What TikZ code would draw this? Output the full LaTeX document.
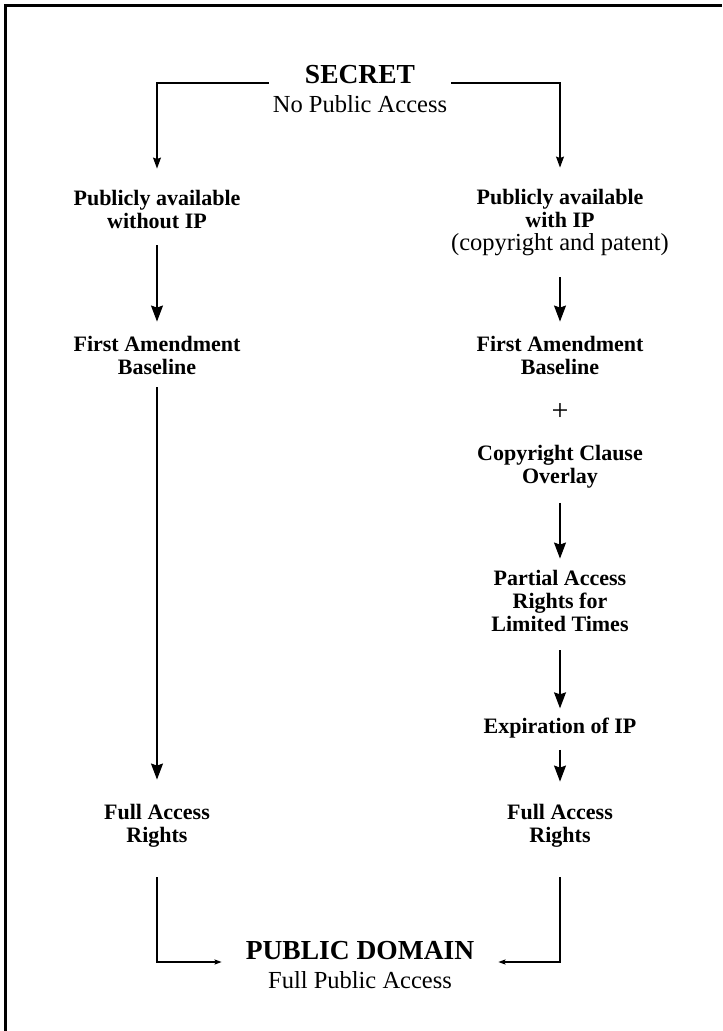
\documentclass[tikz,border=0pt]{standalone}
\usepackage{fontspec}
\setmainfont{Liberation Serif}
\usetikzlibrary{arrows.meta}
\begin{document}
\begin{tikzpicture}[x=1pt,y=-1pt,
  lbl/.style={font=\fontsize{22}{23}\selectfont\bfseries, align=center, anchor=base, inner sep=0pt},
  big/.style={font=\fontsize{27.5}{30}\selectfont\bfseries, anchor=base, inner sep=0pt},
  reg/.style={font=\fontsize{24.5}{26}\selectfont, anchor=base, inner sep=0pt},
  conn/.style={line width=1.2pt},
  arr/.style={conn, -{Stealth[length=16pt,width=12pt,inset=2pt]}},
  sarr/.style={conn, -{Stealth[length=11pt,width=8pt,inset=1.5pt]}},
  tarr/.style={conn, -{Stealth[length=7pt,width=5pt,inset=1pt]}}]
\useasboundingbox (0,0) rectangle (723,1031);
\draw[line width=3pt] (5,1031) -- (5,5) -- (722,5);

\node[big, inner xsep=36pt] (secret) at (360,83) {SECRET};
\node[reg] (nopub) at (360,112) {No Public Access};

\node[lbl] (pubL) at (157,228) {Publicly available\\without IP};
\node[lbl] (pubR) at (560,250) {Publicly available\\with IP\\{\fontsize{24.5}{23}\selectfont\mdseries (copyright and patent)}};

\node[lbl] (faL) at (157,374) {First Amendment\\Baseline};
\node[lbl] (faR) at (560,374) {First Amendment\\Baseline};
\node[font=\fontsize{30}{30}\selectfont, anchor=base, inner sep=0pt] (plus) at (560,420) {+};
\node[lbl] (ccR) at (560,483) {Copyright Clause\\Overlay};
\node[lbl] (partR) at (560,631) {Partial Access\\Rights for\\Limited Times};
\node[lbl] (expR) at (560,733) {Expiration of IP};
\node[lbl] (fullL) at (157,842) {Full Access\\Rights};
\node[lbl] (fullR) at (560,842) {Full Access\\Rights};

\node[big, inner xsep=24pt] (pd) at (360,959) {PUBLIC DOMAIN};
\node[reg] (fpa) at (360,988) {Full Public Access};

\draw[sarr] (secret.base west) -| ([yshift=21pt]pubL.north);
\draw[sarr] (secret.base east) -| ([yshift=21pt]pubR.north);
\draw[arr] ([yshift=-17pt]pubL.south) -- ([yshift=14pt]faL.north);
\draw[arr] ([yshift=-22pt]pubR.south) -- ([yshift=14pt]faR.north);
\draw[arr] ([yshift=-13pt]faL.south) -- ([yshift=24pt]fullL.north);
\draw[arr] ([yshift=-15pt]ccR.south) -- ([yshift=11pt]partR.north);
\draw[arr] ([yshift=-19pt]partR.south) -- ([yshift=9pt]expR.north);
\draw[arr] ([yshift=-12pt]expR.south) -- ([yshift=22pt]fullR.north);
\draw[tarr] ([yshift=-30pt]fullL.south) |- ([yshift=-3pt]pd.base west);
\draw[tarr] ([yshift=-30pt]fullR.south) |- ([yshift=-3pt]pd.base east);
\end{tikzpicture}
\end{document}
